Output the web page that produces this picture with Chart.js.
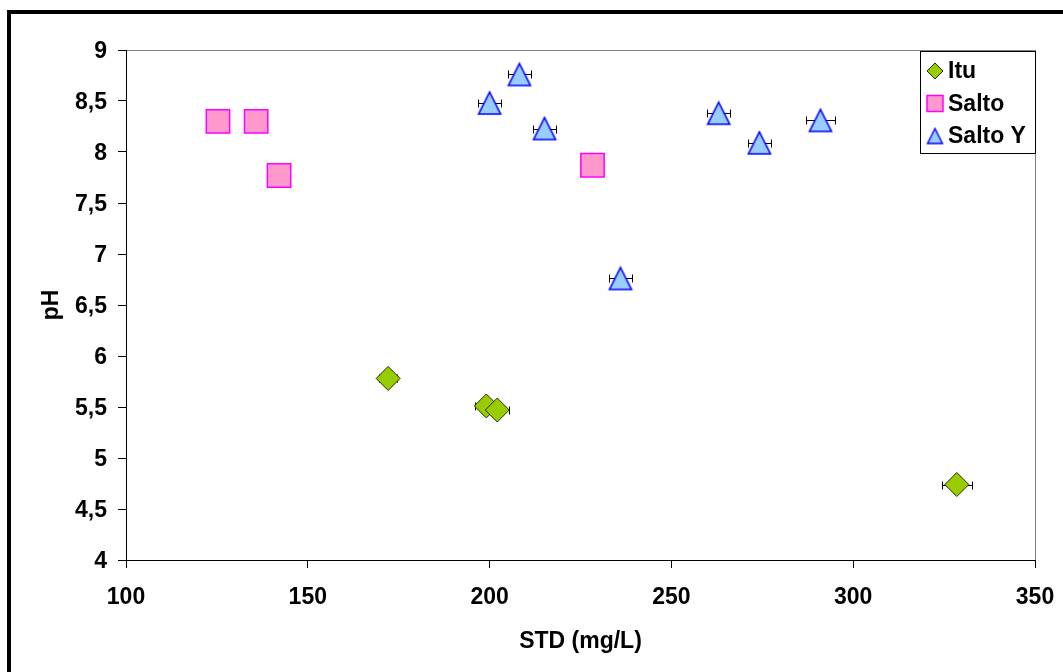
<!DOCTYPE html>
<html>
<head>
<meta charset="utf-8">
<script src="https://cdn.jsdelivr.net/npm/chart.js@4.4.1/dist/chart.umd.min.js"></script>
<style>
  body { margin: 0; background: #fff; }
  #wrap { position: relative; width: 1063px; height: 672px; }
</style>
</head>
<body>
<div id="wrap"><canvas id="chart1" width="1063" height="672"></canvas></div>
<script>
// data (STD mg/L , pH)
var ituX = [172.1, 199.1, 202.1, 328.5];
var ituY = [5.78, 5.51, 5.47, 4.74];
var ituErr = [2.5, 3.0, 3.3, 4.1];

var saltoX = [125.3, 135.8, 142.1, 228.3];
var saltoY = [8.30, 8.30, 7.77, 7.87];
var saltoErr = [2.5, 2.7, 2.8, 3.0];

var saltoYX = [200, 208.2, 215.1, 236, 263, 274.2, 291];
var saltoYY = [8.48, 8.76, 8.23, 6.76, 8.38, 8.09, 8.31];
var saltoYErr = [3.2, 3.2, 3.2, 3.2, 3.2, 3.2, 4.1];

var xTicks = { min: 100, max: 350, step: 50 };
var yTicks = { min: 4, max: 9, step: 0.5 };

var FONT = '"Liberation Sans", Arial, sans-serif';

function points(xs, ys){
  return xs.map(function(x, i){ return {x: x, y: ys[i]}; });
}

// excel style triangle, centred on its bounding box
function triangleMarker(size, fill, stroke, lw){
  var c = document.createElement('canvas');
  var pad = 2;
  c.width = size + pad * 2;
  c.height = size + pad * 2;
  var g = c.getContext('2d');
  g.beginPath();
  g.moveTo(pad + size / 2, pad);
  g.lineTo(pad + size, pad + size);
  g.lineTo(pad, pad + size);
  g.closePath();
  g.fillStyle = fill;
  g.fill();
  g.strokeStyle = stroke;
  g.lineWidth = lw;
  g.lineJoin = 'miter';
  g.stroke();
  return c;
}

var triBig = triangleMarker(22, '#99CCFF', '#0000FF', 1.6);
var triSmall = triangleMarker(15, '#99CCFF', '#0000FF', 1.4);

// horizontal error bars, drawn under the markers
var errorBars = {
  id: 'errorBars',
  beforeDatasetsDraw: function(chart){
    var ctx = chart.ctx, sx = chart.scales.x, sy = chart.scales.y;
    ctx.save();
    ctx.strokeStyle = '#000';
    ctx.lineWidth = 1;
    chart.data.datasets.forEach(function(ds){
      if (!ds.xErr) return;
      ds.data.forEach(function(p, i){
        var e = ds.xErr[i];
        if (!e) return;
        var y = Math.round(sy.getPixelForValue(p.y)) + 0.5;
        var x1 = Math.round(sx.getPixelForValue(p.x - e)) + 0.5;
        var x2 = Math.round(sx.getPixelForValue(p.x + e)) + 0.5;
        ctx.beginPath();
        ctx.moveTo(x1, y); ctx.lineTo(x2, y);
        ctx.moveTo(x1, y - 4); ctx.lineTo(x1, y + 4);
        ctx.moveTo(x2, y - 4); ctx.lineTo(x2, y + 4);
        ctx.stroke();
      });
    });
    ctx.restore();
  }
};

// frame + gray plot area border
var frame = {
  id: 'frame',
  beforeDraw: function(chart){
    var ctx = chart.ctx, a = chart.chartArea;
    ctx.save();
    ctx.fillStyle = '#000';
    ctx.fillRect(7, 10, chart.width - 7, 4);
    ctx.fillRect(7, 10, 4, chart.height - 10);
    ctx.strokeStyle = '#808080';
    ctx.lineWidth = 1;
    ctx.strokeRect(Math.round(a.left) + 0.5, Math.round(a.top) + 0.5,
      Math.round(a.right - a.left), Math.round(a.bottom - a.top));
    ctx.restore();
  }
};

// boxed legend inside the plot, top right
var boxLegend = {
  id: 'boxLegend',
  afterDraw: function(chart){
    var ctx = chart.ctx, a = chart.chartArea;
    var w = 115, h = 102;
    var left = Math.round(a.right) - w, top = Math.round(a.top) + 1;
    ctx.save();
    ctx.fillStyle = '#fff';
    ctx.fillRect(left, top, w, h);
    ctx.strokeStyle = '#000';
    ctx.lineWidth = 1;
    ctx.strokeRect(left + 0.5, top + 0.5, w, h);
    ctx.font = 'bold 23px ' + FONT;
    ctx.textBaseline = 'middle';
    ctx.textAlign = 'left';
    chart.data.datasets.forEach(function(ds, i){
      var cy = top + 20 + i * 32.5;
      ctx.fillStyle = ds.backgroundColor;
      ctx.strokeStyle = ds.borderColor;
      ctx.lineWidth = ds.borderWidth;
      Chart.helpers.drawPoint(ctx, {
        pointStyle: ds.legendStyle || ds.pointStyle,
        radius: ds.legendRadius,
        rotation: 0,
        borderWidth: ds.borderWidth
      }, left + 15, cy);
      ctx.fillStyle = '#000';
      ctx.fillText(ds.label, left + 28, cy + 1);
    });
    ctx.restore();
  }
};

function comma(v){ return String(v).replace('.', ','); }

var ctx = document.getElementById('chart1').getContext('2d');
var chart = new Chart(ctx, {
  type: 'scatter',
  data: {
    datasets: [{
      label: 'Itu',
      data: points(ituX, ituY),
      xErr: ituErr,
      pointStyle: 'rectRot',
      pointRadius: 12,
      legendRadius: 8,
      backgroundColor: '#99CC00',
      borderColor: '#1A3300',
      borderWidth: 1
    }, {
      label: 'Salto',
      data: points(saltoX, saltoY),
      xErr: saltoErr,
      pointStyle: 'rect',
      pointRadius: 16.5,
      legendRadius: 11.3,
      backgroundColor: '#FF99CC',
      borderColor: '#FF00FF',
      borderWidth: 1.5
    }, {
      label: 'Salto Y',
      data: points(saltoYX, saltoYY),
      xErr: saltoYErr,
      pointStyle: triBig,
      legendStyle: triSmall,
      pointRadius: 12,
      legendRadius: 8,
      backgroundColor: '#99CCFF',
      borderColor: '#0000FF',
      borderWidth: 1.5
    }]
  },
  options: {
    responsive: false,
    animation: false,
    devicePixelRatio: 1,
    layout: { padding: { top: 50, right: 28, bottom: 0, left: 0 } },
    plugins: {
      legend: { display: false },
      tooltip: { enabled: false }
    },
    scales: {
      x: {
        type: 'linear',
        min: xTicks.min, max: xTicks.max,
        afterFit: function(s){ s.height = 112; s.paddingLeft = 0; s.paddingRight = 0; },
        ticks: {
          stepSize: xTicks.step,
          color: '#000',
          padding: 16,
          font: { family: FONT, size: 23, weight: 'bold' }
        },
        grid: { drawOnChartArea: false, drawTicks: true, tickLength: 8, color: '#000' },
        border: { color: '#000', width: 1 },
        title: {
          display: true,
          text: 'STD (mg/L)',
          color: '#000',
          padding: { top: 0, bottom: 17 },
          font: { family: FONT, size: 23, weight: 'bold' }
        }
      },
      y: {
        min: yTicks.min, max: yTicks.max,
        afterFit: function(s){ s.width = 126; s.paddingTop = 0; s.paddingBottom = 0; },
        ticks: {
          stepSize: yTicks.step,
          color: '#000',
          padding: 11,
          labelOffset: 2,
          callback: function(v){ return comma(v); },
          font: { family: FONT, size: 23, weight: 'bold' }
        },
        grid: { drawOnChartArea: false, drawTicks: true, tickLength: 8, color: '#000' },
        border: { color: '#000', width: 1 },
        title: {
          display: true,
          text: 'pH',
          color: '#000',
          padding: { top: 38, bottom: 0 },
          font: { family: FONT, size: 23, weight: 'bold' }
        }
      }
    }
  },
  plugins: [frame, errorBars, boxLegend]
});
</script>
</body>
</html>
